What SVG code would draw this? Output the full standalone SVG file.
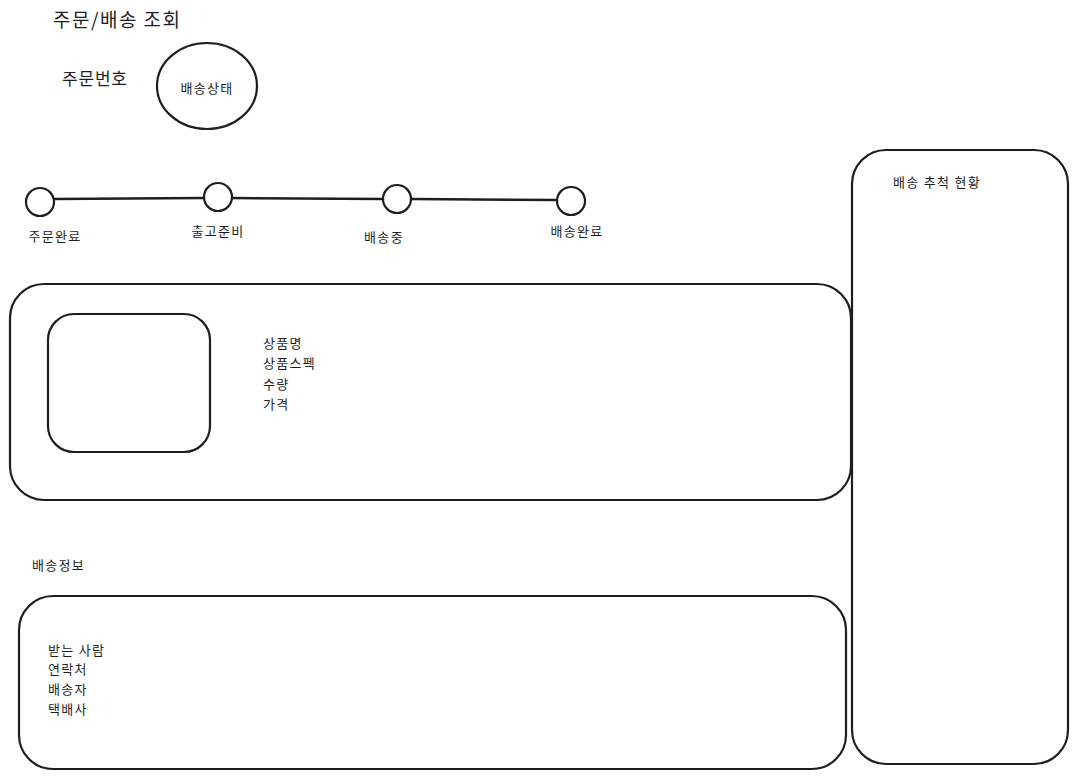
<svg xmlns="http://www.w3.org/2000/svg" width="1078" height="779" viewBox="0 0 1078 779">
<style>
.t{font-family:"Noto Sans CJK KR","Noto Sans",sans-serif;fill:#1e1e1e;}
.s{font-size:13px;letter-spacing:1.3px;}
.shape{fill:none;stroke:#1e1e1e;stroke-width:2.2;stroke-linecap:round;}
.line{fill:none;stroke:#1e1e1e;stroke-width:2.5;stroke-linecap:round;}
</style>
<rect width="1078" height="779" fill="#ffffff"/>
<g id="title"><text class="t" x="53" y="27" font-size="19" letter-spacing="1.5">주문/배송 조회</text></g>
<g id="order-no"><text class="t" x="62" y="85" font-size="17" letter-spacing="0.8">주문번호</text></g>
<g id="status-circle">
<ellipse class="shape" cx="207" cy="86" rx="50" ry="43" stroke-width="3"/>
<text class="t s" x="207" y="93" text-anchor="middle">배송상태</text>
</g>
<g id="connectors">
<line class="line" x1="54" y1="199" x2="204" y2="198"/>
<line class="line" x1="232" y1="198" x2="383" y2="199"/>
<line class="line" x1="411" y1="199" x2="557" y2="200" stroke-width="3"/>
</g>
<g id="step1"><ellipse class="shape" cx="40" cy="202" rx="14" ry="14" stroke-width="2.5"/><text class="t s" x="55" y="241" text-anchor="middle">주문완료</text></g>
<g id="step2"><ellipse class="shape" cx="218" cy="197" rx="14" ry="14" stroke-width="2.5"/><text class="t s" x="218" y="236" text-anchor="middle">출고준비</text></g>
<g id="step3"><ellipse class="shape" cx="397" cy="199" rx="14" ry="14" stroke-width="2.5"/><text class="t s" x="384" y="242" text-anchor="middle">배송중</text></g>
<g id="step4"><ellipse class="shape" cx="571" cy="201" rx="14" ry="14" stroke-width="2.5"/><text class="t s" x="577" y="236" text-anchor="middle">배송완료</text></g>
<g id="product-box">
<rect class="shape" x="10" y="284" width="841" height="216" rx="34"/>
</g>
<g id="product-image">
<rect class="shape" x="48" y="314" width="162" height="138" rx="26"/>
</g>
<g id="product-info">
<text class="t s" x="263" y="348">상품명</text>
<text class="t s" x="263" y="368">상품스펙</text>
<text class="t s" x="263" y="389">수량</text>
<text class="t s" x="263" y="409">가격</text>
</g>
<g id="delivery-label"><text class="t s" x="32" y="570">배송정보</text></g>
<g id="delivery-box">
<rect class="shape" x="19" y="596" width="827" height="173" rx="34"/>
<text class="t s" x="48" y="655">받는 사람</text>
<text class="t s" x="48" y="674">연락처</text>
<text class="t s" x="48" y="694">배송자</text>
<text class="t s" x="48" y="714">택배사</text>
</g>
<g id="tracking-box">
<rect class="shape" x="852" y="150" width="216" height="614" rx="34"/>
<text class="t s" x="893" y="187">배송 추척 현황</text>
</g>
</svg>
